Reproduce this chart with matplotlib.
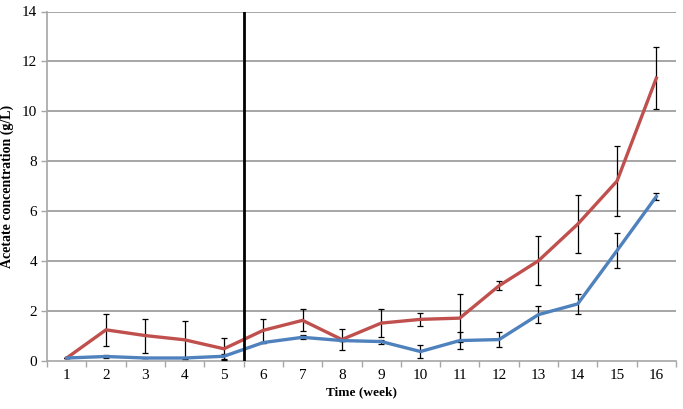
import matplotlib
matplotlib.use("Agg")
import matplotlib.pyplot as plt
import numpy as np

weeks = list(range(1, 17))
red_vals = [0.1, 1.23, 1.0, 0.83, 0.47, 1.21, 1.61, 0.84, 1.5, 1.65, 1.7, 3.0, 4.0, 5.47, 7.2, 11.33]
red_err = [0.0, 0.64, 0.68, 0.76, 0.45, 0.45, 0.44, 0.43, 0.55, 0.25, 0.97, 0.19, 0.98, 1.15, 1.4, 1.25]
blue_vals = [0.1, 0.16, 0.1, 0.1, 0.17, 0.72, 0.93, 0.8, 0.76, 0.36, 0.8, 0.84, 1.84, 2.27, 4.41, 6.58]
blue_err = [0.0, 0.07, 0.0, 0.0, 0.1, 0.0, 0.08, 0.0, 0.08, 0.25, 0.33, 0.3, 0.33, 0.4, 0.7, 0.15]
divider_week = 5.5
y_ticks = [0, 2, 4, 6, 8, 10, 12, 14]

plt.rcParams['font.family'] = ['Liberation Serif', 'DejaVu Serif']

fig = plt.figure(figsize=(6.83, 4.09), dpi=100)
ax = fig.add_axes([47/683, 1-360.5/409, (676-47)/683, (360.5-11.5)/409])

grid_c = '#A6A6A6'
for y in y_ticks[1:]:
    ax.axhline(y, color=grid_c, lw=1.4, zorder=1)

ax.errorbar(weeks, red_vals, yerr=red_err, color='#C0504D', lw=2.4,
            ecolor='black', elinewidth=0.9, capsize=2.5, capthick=0.9, zorder=3)
ax.errorbar(weeks, blue_vals, yerr=blue_err, color='#4F81BD', lw=2.4,
            ecolor='black', elinewidth=0.9, capsize=2.5, capthick=0.9, zorder=3)

ax.axvline(divider_week, ymin=0, ymax=1, color='black', lw=2.0, zorder=4)

ax.set_xlim(0.5, 16.5)
ax.set_ylim(0, 14)
ax.set_yticks(y_ticks)
ax.set_xticks(weeks)
ax.set_xticks(np.arange(0.5, 17, 1), minor=True)
ax.tick_params(axis='x', which='major', length=0, pad=6, labelsize=11)
ax.tick_params(axis='x', which='minor', length=4, color=grid_c, width=1)
ax.tick_params(axis='y', length=4, color=grid_c, width=1, labelsize=11, pad=3)

for s in ['top', 'right']:
    ax.spines[s].set_visible(False)
for s in ['left', 'bottom']:
    ax.spines[s].set_color(grid_c)
    ax.spines[s].set_linewidth(1.2)

ax.set_xlabel('Time (week)', fontsize=9.5, fontweight='bold', labelpad=3)
ax.set_ylabel('Acetate concentration (g/L)', fontsize=10, fontweight='bold', labelpad=6)

fig.savefig('out.png', dpi=100)
